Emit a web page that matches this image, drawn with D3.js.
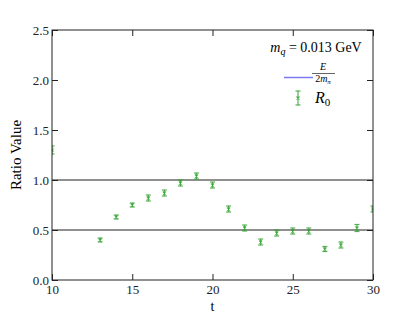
<!DOCTYPE html>
<html>
<head>
<meta charset="utf-8">
<script src="https://cdn.jsdelivr.net/npm/d3@7"></script>
<style>
body { margin: 0; background: #fff; }
svg text { font-family: "Liberation Serif", "DejaVu Serif", serif; }
</style>
</head>
<body>
<div id="chart"></div>
<script>
// data
var tValues = [10, 13, 14, 15, 16, 17, 18, 19, 20, 21, 22, 23, 24, 25, 26, 27, 28, 29, 30];
var r0Values = [1.30, 0.40, 0.63, 0.75, 0.82, 0.87, 0.97, 1.04, 0.95, 0.71, 0.52, 0.38, 0.47, 0.49, 0.49, 0.31, 0.35, 0.52, 0.71];
var r0Errors = [0.04, 0.02, 0.02, 0.02, 0.03, 0.03, 0.03, 0.03, 0.03, 0.03, 0.03, 0.03, 0.03, 0.03, 0.03, 0.025, 0.03, 0.035, 0.03];
var refLines = [1.0, 0.5];
var xTicks = [10, 15, 20, 25, 30];
var yTicks = [0.0, 0.5, 1.0, 1.5, 2.0, 2.5];

var margin = { top: 30, right: 42, bottom: 35, left: 52 },
    width = 415 - margin.left - margin.right,
    height = 315 - margin.top - margin.bottom;

var svg = d3.select("#chart")
    .append("svg")
    .attr("width", 415)
    .attr("height", 315)
    .append("g")
    .attr("transform", "translate(" + margin.left + "," + margin.top + ")");

var x = d3.scaleLinear().domain([10, 30]).range([0, width]);
var y = d3.scaleLinear().domain([0, 2.5]).range([height, 0]);

var green = "#2ca02c";

// clip for points on the edges
svg.append("clipPath").attr("id", "clip")
    .append("rect").attr("width", width).attr("height", height);

// reference lines
svg.selectAll(".ref")
    .data(refLines)
    .enter()
    .append("line")
    .attr("x1", 0).attr("x2", width)
    .attr("y1", function (d) { return y(d); })
    .attr("y2", function (d) { return y(d); })
    .attr("stroke", "#222")
    .attr("stroke-width", 1.2);

// error bar symbol: vertical bar, caps, small x marker
function errSym(g, cx, cy, lo, hi) {
    g.append("line").attr("x1", cx).attr("x2", cx).attr("y1", lo).attr("y2", hi);
    g.append("line").attr("x1", cx - 2.5).attr("x2", cx + 2.5).attr("y1", lo).attr("y2", lo);
    g.append("line").attr("x1", cx - 2.5).attr("x2", cx + 2.5).attr("y1", hi).attr("y2", hi);
    g.append("path")
        .attr("d", "M" + (cx - 1.5) + "," + (cy - 1.5) + "L" + (cx + 1.5) + "," + (cy + 1.5) +
            "M" + (cx - 1.5) + "," + (cy + 1.5) + "L" + (cx + 1.5) + "," + (cy - 1.5));
}

var pts = tValues.map(function (t, i) { return { t: t, v: r0Values[i], e: r0Errors[i] }; });
var ebLayer = svg.append("g").attr("clip-path", "url(#clip)");
pts.forEach(function (d) {
    var g = ebLayer.append("g")
        .attr("stroke", green)
        .attr("stroke-opacity", 0.8)
        .attr("stroke-width", 1.2)
        .attr("fill", "none");
    errSym(g, x(d.t), y(d.v), y(d.v - d.e), y(d.v + d.e));
});

// axes, ticks pointing inward on all four sides
function styleAxis(g) {
    g.select(".domain").remove();
    g.selectAll("line").attr("stroke", "#222");
    g.selectAll("text").attr("font-size", "13px").attr("fill", "#222");
}
svg.append("g")
    .attr("transform", "translate(0," + height + ")")
    .call(d3.axisBottom(x).tickValues(xTicks).tickSize(-6).tickPadding(5).tickFormat(d3.format("d")))
    .call(styleAxis);
svg.append("g")
    .call(d3.axisTop(x).tickValues(xTicks).tickSize(-6).tickFormat(""))
    .call(styleAxis);
svg.append("g")
    .call(d3.axisLeft(y).tickValues(yTicks).tickSize(-6).tickPadding(3).tickFormat(d3.format(".1f")))
    .call(styleAxis);
svg.append("g")
    .attr("transform", "translate(" + width + ",0)")
    .call(d3.axisRight(y).tickValues(yTicks).tickSize(-6).tickFormat(""))
    .call(styleAxis);

svg.append("rect")
    .attr("width", width).attr("height", height)
    .attr("fill", "none")
    .attr("stroke", "#222")
    .attr("stroke-width", 1);

// axis labels
svg.append("text")
    .attr("x", width / 2).attr("y", height + 31)
    .attr("text-anchor", "middle")
    .attr("font-size", "14px")
    .text("t");
svg.append("text")
    .attr("transform", "translate(-31," + (height / 2) + ")rotate(-90)")
    .attr("text-anchor", "middle")
    .attr("font-size", "15px")
    .text("Ratio Value");

// legend
var lg = svg.append("g");
var title = lg.append("text")
    .attr("x", 264).attr("y", 22)
    .attr("text-anchor", "middle")
    .attr("font-size", "14px");
title.append("tspan").attr("font-style", "italic").text("m");
title.append("tspan").attr("font-style", "italic").attr("font-size", "10px").attr("dy", 3).text("q");
title.append("tspan").attr("dy", -3).text(" = 0.013 GeV");

lg.append("line")
    .attr("x1", 232).attr("x2", 261)
    .attr("y1", 47.5).attr("y2", 47.5)
    .attr("stroke", "#7b7bf0")
    .attr("stroke-width", 1.5);
lg.append("text")
    .attr("x", 271).attr("y", 40)
    .attr("text-anchor", "middle")
    .attr("font-size", "10px")
    .attr("font-style", "italic")
    .text("E");
lg.append("line")
    .attr("x1", 260).attr("x2", 283)
    .attr("y1", 43.5).attr("y2", 43.5)
    .attr("stroke", "#222").attr("stroke-width", 0.7);
var den = lg.append("text")
    .attr("x", 271).attr("y", 52)
    .attr("text-anchor", "middle")
    .attr("font-size", "10px");
den.append("tspan").text("2");
den.append("tspan").attr("font-style", "italic").text("m");
den.append("tspan").attr("font-style", "italic").attr("font-size", "7px").attr("dy", 2).text("π");

var lx = 246, ly = 68;
var lsym = lg.append("g").attr("stroke", green).attr("stroke-width", 1.2)
    .attr("stroke-opacity", 0.8).attr("fill", "none");
errSym(lsym, lx, ly, ly + 7, ly - 7);
var rl = lg.append("text")
    .attr("x", 263).attr("y", 73)
    .attr("font-size", "16px");
rl.append("tspan").attr("font-style", "italic").text("R");
rl.append("tspan").attr("font-size", "11px").attr("dy", 3).text("0");
</script>
</body>
</html>
